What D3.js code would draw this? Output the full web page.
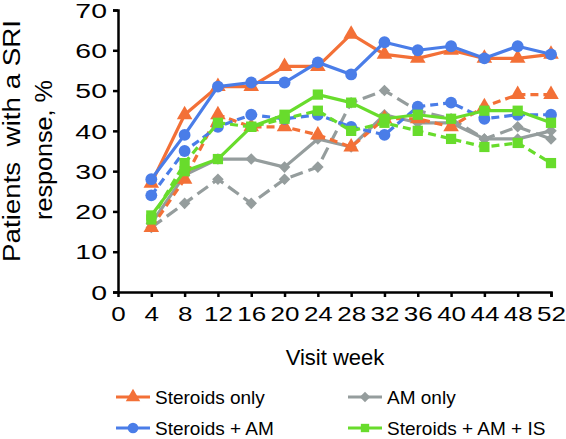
<!DOCTYPE html>
<html>
<head>
<meta charset="utf-8">
<script src="https://cdn.jsdelivr.net/npm/d3@7"></script>
<style>
  html, body { margin: 0; padding: 0; background: #fff; }
  svg { display: block; font-family: "Liberation Sans", Arial, Helvetica, sans-serif; }
</style>
</head>
<body>
<svg id="chart" width="566" height="439"></svg>
<script>
const weeks = [4, 8, 12, 16, 20, 24, 28, 32, 36, 40, 44, 48, 52];
const xTicks = [0, 4, 8, 12, 16, 20, 24, 28, 32, 36, 40, 44, 48, 52];
const yTicks = [0, 10, 20, 30, 40, 50, 60, 70];

const steroidsSolid  = [27, 44, 51, 51, 56, 56, 64, 59, 58, 60, 58, 58, 59];
const steroidsDashed = [16, 28, 44, 41, 41, 39, 36, 43, 43, 41, 46, 49, 49];
const amSolid        = [17, 29, 33, 33, 31, 38, 36, 44, 42, 42, 38, 38, 40];
const amDashed       = [16, 22, 28, 22, 28, 31, 47, 50, 45, 43, 38, 41, 38];
const steroidsAmSolid  = [28, 39, 51, 52, 52, 57, 54, 62, 60, 61, 58, 61, 59];
const steroidsAmDashed = [24, 35, 41, 44, 43, 44, 41, 39, 46, 47, 43, 44, 44];
const steroidsAmIsSolid  = [19, 30, 33, 41, 44, 49, 47, 43, 44, 43, 45, 45, 42];
const steroidsAmIsDashed = [18, 32, 42, 41, 43, 45, 40, 42, 40, 38, 36, 37, 32];

const legendNames = ["Steroids only", "AM only", "Steroids + AM", "Steroids + AM + IS"];

const C = { orange: "#f37037", gray: "#959d9d", blue: "#4a7de8", green: "#68dc2c" };

const series = [
  { vals: amDashed, color: C.gray, dash: "13,6", sym: d3.symbolDiamond2, size: 85 },
  { vals: amSolid, color: C.gray, dash: null, sym: d3.symbolDiamond2, size: 85 },
  { vals: steroidsDashed, color: C.orange, dash: "8,5", sym: d3.symbolTriangle, size: 105 },
  { vals: steroidsAmDashed, color: C.blue, dash: "8,5", sym: d3.symbolCircle, size: 110 },
  { vals: steroidsAmIsDashed, color: C.green, dash: "8,5", sym: d3.symbolSquare, size: 105 },
  { vals: steroidsAmIsSolid, color: C.green, dash: null, sym: d3.symbolSquare, size: 105 },
  { vals: steroidsSolid, color: C.orange, dash: null, sym: d3.symbolTriangle, size: 105 },
  { vals: steroidsAmSolid, color: C.blue, dash: null, sym: d3.symbolCircle, size: 110 }
];

const svg = d3.select("#chart");
const x = d3.scaleLinear().domain([0, 52]).range([118, 551]);
const y = d3.scaleLinear().domain([0, 70]).range([292, 10]);

// axes
const yAxis = svg.append("g").attr("transform", "translate(118,0)")
  .call(d3.axisLeft(y).tickValues(yTicks).tickSize(5));
const xAxis = svg.append("g").attr("transform", "translate(0,292)")
  .call(d3.axisBottom(x).tickValues(xTicks).tickSize(5));
[yAxis, xAxis].forEach(g => {
  g.select(".domain").attr("stroke", "#000").attr("stroke-width", 2.5);
  g.selectAll(".tick line").attr("stroke", "#000").attr("stroke-width", 2.5);
  g.selectAll(".tick text").attr("fill", "#000").style("font-size", "20px")
   .style("font-family", "'Liberation Sans', Arial, sans-serif");
});
yAxis.selectAll(".tick text").attr("x", -7.8).attr("dy", "0.36em")
  .attr("transform", "scale(1.42,1)");
xAxis.selectAll(".tick text").attr("y", 15).attr("dy", "0.71em")
  .attr("transform", "scale(1.3,1)");
xAxis.selectAll(".tick").filter(d => d === 0).select("line").remove();

// lines
const line = d3.line().x((d, i) => x(weeks[i])).y(d => y(d));
series.forEach(s => {
  svg.append("path").datum(s.vals)
    .attr("fill", "none").attr("stroke", s.color).attr("stroke-width", 3.2)
    .attr("stroke-dasharray", s.dash).attr("stroke-linejoin", "round")
    .attr("d", line);
  svg.append("g").selectAll("path").data(s.vals).join("path")
    .attr("transform", (d, i) => `translate(${x(weeks[i])},${y(d)})`)
    .attr("d", d3.symbol().type(s.sym).size(s.size))
    .attr("fill", s.color);
});

// axis titles
svg.append("text").attr("x", 335).attr("y", 365).attr("text-anchor", "middle")
  .style("font-size", "22px").text("Visit week");
svg.append("text").attr("transform", "translate(20,262) rotate(-90)")
  .attr("text-anchor", "start").style("font-size", "23px")
  .attr("textLength", 242).attr("lengthAdjust", "spacingAndGlyphs")
  .attr("xml:space", "preserve").text("Patients  with a SRI");
svg.append("text").attr("transform", "translate(52,220) rotate(-90)")
  .attr("text-anchor", "start").style("font-size", "23px")
  .attr("textLength", 140).attr("lengthAdjust", "spacingAndGlyphs")
  .text("response, %");

// legend
const legendItems = [
  { name: legendNames[0], color: C.orange, sym: d3.symbolTriangle, size: 90, lx: 116, ly: 397 },
  { name: legendNames[1], color: C.gray, sym: d3.symbolDiamond2, size: 70, lx: 348, ly: 397 },
  { name: legendNames[2], color: C.blue, sym: d3.symbolCircle, size: 90, lx: 116, ly: 428 },
  { name: legendNames[3], color: C.green, sym: d3.symbolSquare, size: 70, lx: 348, ly: 428 }
];
legendItems.forEach(it => {
  svg.append("line").attr("x1", it.lx).attr("x2", it.lx + 34)
    .attr("y1", it.ly).attr("y2", it.ly).attr("stroke", it.color).attr("stroke-width", 3.2);
  svg.append("path").attr("transform", `translate(${it.lx + 17},${it.ly})`)
    .attr("d", d3.symbol().type(it.sym).size(it.size)).attr("fill", it.color);
  svg.append("text").attr("x", it.lx + 39).attr("y", it.ly + 7)
    .style("font-size", "19px").text(it.name);
});
</script>
</body>
</html>
